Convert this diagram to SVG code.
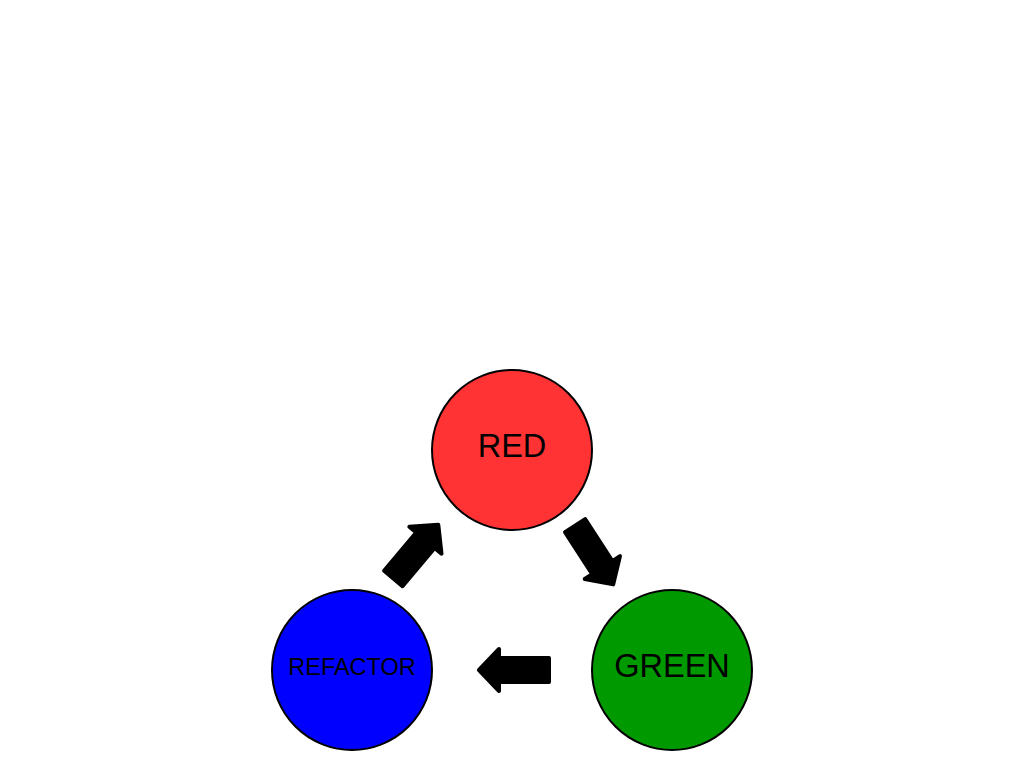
<svg xmlns="http://www.w3.org/2000/svg" width="1024" height="768" viewBox="0 0 1024 768">
<defs>
<style>
.node{stroke:#000;stroke-width:2}
.lbl{font-family:"Liberation Sans",Arial,sans-serif;fill:#000;text-anchor:middle}
.arr{fill:#000;stroke:#000;stroke-width:4;stroke-linejoin:round}
</style>
<path id="blk" d="M2,-12 L52,-12 L52,-21 L72,0 L52,21 L52,12 L2,12 Z"/>
</defs>
<rect width="1024" height="768" fill="#fff"/>
<g id="connectors">
<use href="#blk" class="arr" transform="translate(392,580) rotate(-50)"/>
<use href="#blk" class="arr" transform="translate(574,524) rotate(57)"/>
<use href="#blk" class="arr" transform="translate(551,670) rotate(180)"/>
</g>
<g id="red">
<circle class="node" cx="512" cy="450" r="80" fill="#FF3333"/>
<text class="lbl" x="512" y="457" font-size="32.5">RED</text>
</g>
<g id="green">
<circle class="node" cx="672" cy="670" r="80" fill="#009900"/>
<text class="lbl" x="672" y="677" font-size="32.5">GREEN</text>
</g>
<g id="refactor">
<circle class="node" cx="352" cy="670" r="80" fill="#0000FF"/>
<text class="lbl" x="352" y="675" font-size="23.5">REFACTOR</text>
</g>
</svg>
